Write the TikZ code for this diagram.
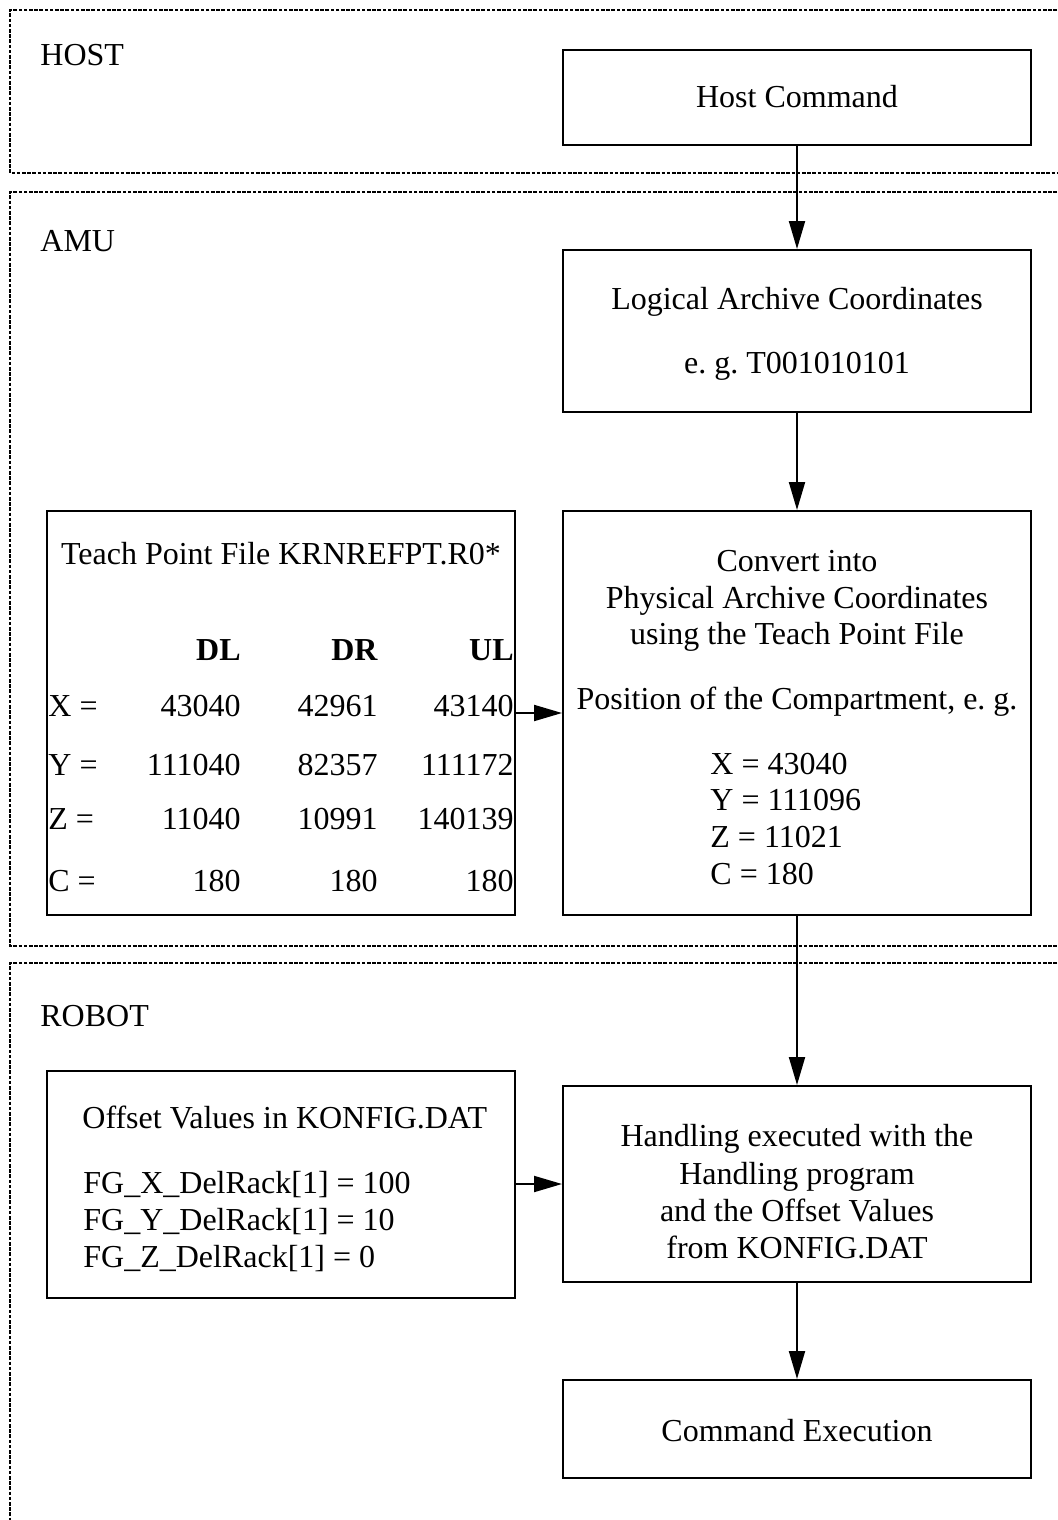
\documentclass[tikz,border=0pt]{standalone}
\usepackage{fontspec}
\setmainfont{Liberation Serif}
\usetikzlibrary{arrows.meta}
\frenchspacing

\begin{document}
\begin{tikzpicture}[x=0.5pt,y=-0.5pt]
    \tikzset{ZoneStyle/.style = {%
        line width=1.1pt,
        dash pattern=on 1.8pt off 0.8pt},
      BoxStyle/.style = {%
        draw, line width=1pt,
        minimum width=234pt, inner sep=0pt},
      TextStyle/.style = {%
        inner sep=0pt, anchor=base,
        font=\fontsize{16}{18.5}\selectfont},
      ArrowStyle/.style = {%
        line width=1pt, -{Triangle[length=14pt,width=8pt]}}}
    \useasboundingbox (0,0) rectangle (1057,1520);
    % zones
    \draw[ZoneStyle] (1057,10) -| (10,173) -- (1057,173);
    \draw[ZoneStyle] (1057,192) -| (10,946) -- (1057,946);
    \draw[ZoneStyle] (1057,963) -| (10,1520);
    \node[TextStyle,anchor=base west] (hostlabel) at (40,66) {HOST};
    \node[TextStyle,anchor=base west] (amulabel) at (40,251) {AMU};
    \node[TextStyle,anchor=base west] (robotlabel) at (40,1026) {ROBOT};
    % boxes
    \node[BoxStyle,minimum height=47.5pt] (host) at (797,97.5) {};
    \node[BoxStyle,minimum height=81pt] (logical) at (797,331) {};
    \node[BoxStyle,minimum height=202pt] (convert) at (797,713) {};
    \node[BoxStyle,minimum height=202pt] (teach) at (281,713) {};
    \node[BoxStyle,minimum height=113.5pt] (offset) at (281,1184) {};
    \node[BoxStyle,minimum height=98pt] (handling) at (797,1184) {};
    \node[BoxStyle,minimum height=49pt] (command) at (797,1429) {};
    % texts
    \node[TextStyle] (hosttext) at (797,108) {Host Command};
    \node[TextStyle] (logtext) at (797,309) {Logical Archive Coordinates};
    \node[TextStyle] (logexample) at (797,373) {e. g. T001010101};
    \node[TextStyle] (cmdtext) at (797,1441) {Command Execution};
    \node[TextStyle] (teachtitle) at (281,564) {Teach Point File KRNREFPT.R0*};
    \node[TextStyle,anchor=base east] (headDL) at (241,660) {\bfseries DL};
    \node[TextStyle,anchor=base east] (headDR) at (378,660) {\bfseries DR};
    \node[TextStyle,anchor=base east] (headUL) at (514,660) {\bfseries UL};
    \foreach \lab/\da/\db/\dc/\yy in {X/43040/42961/43140/716,
        Y/111040/82357/111172/775, Z/11040/10991/140139/829, C/180/180/180/891}{
      \node[TextStyle,anchor=base west] (row\lab) at (48,\yy) {\lab\ =};
      \node[TextStyle,anchor=base east] (dl\lab) at (241,\yy) {\da};
      \node[TextStyle,anchor=base east] (dr\lab) at (378,\yy) {\db};
      \node[TextStyle,anchor=base east] (ul\lab) at (514,\yy) {\dc};
    }
    \foreach \txt/\yy [count=\i] in {Convert into/571, Physical Archive Coordinates/608,
        using the Teach Point File/644, Position of the Compartment{,} e. g./709}
      \node[TextStyle] (conv\i) at (797,\yy) {\txt};
    \foreach \txt/\yy [count=\i] in {X = 43040/774, Y = 111096/810,
        Z = 11021/847, C = 180/884}
      \node[TextStyle,anchor=base west] (pos\i) at (710,\yy) {\txt};
    \node[TextStyle,anchor=base west] (offtitle) at (82,1128) {Offset Values in KONFIG.DAT};
    \foreach \txt/\yy [count=\i] in {FG\_X\_DelRack[1] = 100/1193,
        FG\_Y\_DelRack[1] = 10/1230, FG\_Z\_DelRack[1] = 0/1267}
      \node[TextStyle,anchor=base west] (off\i) at (83,\yy) {\txt};
    \foreach \txt/\yy [count=\i] in {Handling executed with the/1146,
        Handling program/1184, and the Offset Values/1221, from KONFIG.DAT/1258}
      \node[TextStyle] (hand\i) at (797,\yy) {\txt};
    % connectors
    \draw[ArrowStyle] (host) -- (logical);
    \draw[ArrowStyle] (logical) -- (convert);
    \draw[ArrowStyle] (teach) -- (convert);
    \draw[ArrowStyle] (convert) -- (handling);
    \draw[ArrowStyle] (offset) -- (handling);
    \draw[ArrowStyle] (handling) -- (command);
\end{tikzpicture}
\end{document}
